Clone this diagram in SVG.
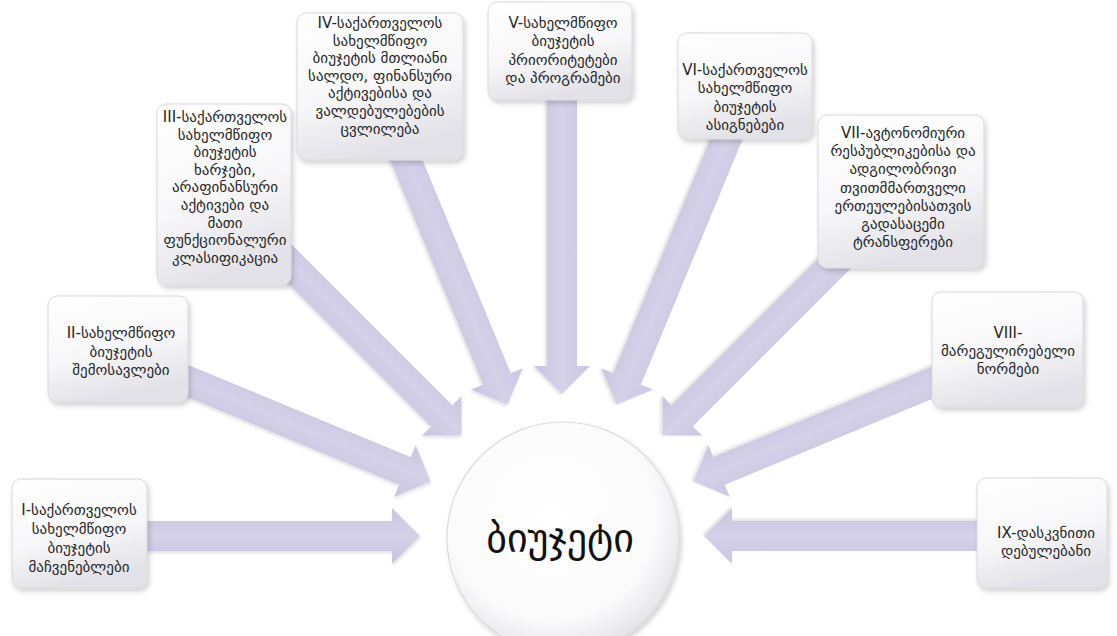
<svg xmlns="http://www.w3.org/2000/svg" width="1117" height="636" viewBox="0 0 1117 636">
<defs>
<style>
.box{fill:url(#boxg);stroke:#d9d9de;stroke-width:1;filter:url(#sh)}
.t{font-family:"DejaVu Sans",sans-serif;font-size:15px;fill:#262626;text-anchor:middle}
.arr{fill:url(#arrg);filter:url(#ash)}
.ctext{font-family:"DejaVu Sans",sans-serif;font-size:40px;fill:#111;text-anchor:middle}
</style>
<linearGradient id="boxg" x1="0" y1="0" x2="0.3" y2="1">
<stop offset="0" stop-color="#ffffff"/>
<stop offset="0.6" stop-color="#f7f7f9"/>
<stop offset="1" stop-color="#e2e2e8"/>
</linearGradient>
<linearGradient id="arrg" x1="0" y1="0" x2="0" y2="1">
<stop offset="0" stop-color="#cbc6e1"/>
<stop offset="0.5" stop-color="#d5d1e9"/>
<stop offset="1" stop-color="#c9c4df"/>
</linearGradient>
<radialGradient id="circg" cx="0.45" cy="0.4" r="0.6">
<stop offset="0" stop-color="#ffffff"/>
<stop offset="0.75" stop-color="#fbfbfc"/>
<stop offset="1" stop-color="#e6e6ea"/>
</radialGradient>
<filter id="sh" x="-20%" y="-20%" width="140%" height="140%">
<feDropShadow dx="2" dy="3" stdDeviation="2.5" flood-color="#000" flood-opacity="0.18"/>
</filter>
<filter id="ash" x="-10%" y="-50%" width="120%" height="200%">
<feDropShadow dx="1" dy="2" stdDeviation="1.5" flood-color="#000" flood-opacity="0.12"/>
</filter>
<polygon id="ar" points="-300,-15 -28,-15 -28,-28 0,0 -28,28 -28,15 -300,15"/>
</defs>
<rect width="1117" height="636" fill="#ffffff"/>
<g id="connectors">
<use href="#ar" class="arr" transform="translate(562,536) rotate(180) translate(142,0) rotate(180)"/>
<use href="#ar" class="arr" transform="translate(562,536) rotate(202.5) translate(142,0) rotate(180)"/>
<use href="#ar" class="arr" transform="translate(562,536) rotate(225) translate(142,0) rotate(180)"/>
<use href="#ar" class="arr" transform="translate(562,536) rotate(247.5) translate(142,0) rotate(180)"/>
<use href="#ar" class="arr" transform="translate(562,536) rotate(270) translate(142,0) rotate(180)"/>
<use href="#ar" class="arr" transform="translate(562,536) rotate(292.5) translate(142,0) rotate(180)"/>
<use href="#ar" class="arr" transform="translate(562,536) rotate(315) translate(142,0) rotate(180)"/>
<use href="#ar" class="arr" transform="translate(562,536) rotate(337.5) translate(142,0) rotate(180)"/>
<use href="#ar" class="arr" transform="translate(562,536) rotate(0) translate(142,0) rotate(180)"/>
</g>
<g id="center">
<circle cx="563" cy="538" r="116" fill="url(#circg)" stroke="#dcdce0" stroke-width="1.2" filter="url(#sh)"/>
<text class="ctext" x="560" y="552">ბიუჯეტი</text>
</g>
<g id="n1">
<rect class="box" x="12" y="479" width="135" height="109" rx="9"/>
<text class="t" x="79" y="515">I-საქართველოს</text>
<text class="t" x="79" y="534">სახელმწიფო</text>
<text class="t" x="79" y="553">ბიუჯეტის</text>
<text class="t" x="79" y="572">მაჩვენებლები</text>
</g>
<g id="n2">
<rect class="box" x="48" y="296" width="140" height="106" rx="9"/>
<text class="t" x="121" y="338">II-სახელმწიფო</text>
<text class="t" x="121" y="357">ბიუჯეტის</text>
<text class="t" x="121" y="375">შემოსავლები</text>
</g>
<g id="n3">
<rect class="box" x="157" y="104" width="134" height="181" rx="9"/>
<text class="t" x="225" y="122">III-საქართველოს</text>
<text class="t" x="225" y="139.6">სახელმწიფო</text>
<text class="t" x="225" y="157.2">ბიუჯეტის</text>
<text class="t" x="225" y="174.8">ხარჯები,</text>
<text class="t" x="225" y="192.4">არაფინანსური</text>
<text class="t" x="225" y="210">აქტივები და</text>
<text class="t" x="225" y="227.6">მათი</text>
<text class="t" x="225" y="245.2">ფუნქციონალური</text>
<text class="t" x="225" y="262.8">კლასიფიკაცია</text>
</g>
<g id="n4">
<rect class="box" x="297" y="13" width="166" height="147" rx="9"/>
<text class="t" x="380" y="28">IV-საქართველოს</text>
<text class="t" x="380" y="45.6">სახელმწიფო</text>
<text class="t" x="380" y="63.2">ბიუჯეტის მთლიანი</text>
<text class="t" x="380" y="80.8">სალდო, ფინანსური</text>
<text class="t" x="380" y="98.4">აქტივებისა და</text>
<text class="t" x="380" y="116">ვალდებულებების</text>
<text class="t" x="380" y="133.6">ცვლილება</text>
</g>
<g id="n5">
<rect class="box" x="488" y="2" width="144" height="98" rx="9"/>
<text class="t" x="563" y="28">V-სახელმწიფო</text>
<text class="t" x="563" y="46.3">ბიუჯეტის</text>
<text class="t" x="563" y="64.6">პრიორიტეტები</text>
<text class="t" x="563" y="82.9">და პროგრამები</text>
</g>
<g id="n6">
<rect class="box" x="678" y="33" width="134" height="106" rx="9"/>
<text class="t" x="745" y="75">VI-საქართველოს</text>
<text class="t" x="745" y="93.3">სახელმწიფო</text>
<text class="t" x="745" y="111.6">ბიუჯეტის</text>
<text class="t" x="745" y="129.9">ასიგნებები</text>
</g>
<g id="n7">
<rect class="box" x="818" y="115" width="166" height="153" rx="9"/>
<text class="t" x="903" y="138">VII-ავტონომიური</text>
<text class="t" x="903" y="156.2">რესპუბლიკებისა და</text>
<text class="t" x="903" y="174.4">ადგილობრივი</text>
<text class="t" x="903" y="192.6">თვითმმართველი</text>
<text class="t" x="903" y="210.8">ერთეულებისათვის</text>
<text class="t" x="903" y="229">გადასაცემი</text>
<text class="t" x="903" y="247.2">ტრანსფერები</text>
</g>
<g id="n8">
<rect class="box" x="932" y="292" width="151" height="115" rx="9"/>
<text class="t" x="1008" y="338">VIII-</text>
<text class="t" x="1008" y="356">მარეგულირებელი</text>
<text class="t" x="1008" y="374">ნორმები</text>
</g>
<g id="n9">
<rect class="box" x="977" y="478" width="130" height="110" rx="9"/>
<text class="t" x="1046" y="538">IX-დასკვნითი</text>
<text class="t" x="1046" y="556">დებულებანი</text>
</g>
</svg>
